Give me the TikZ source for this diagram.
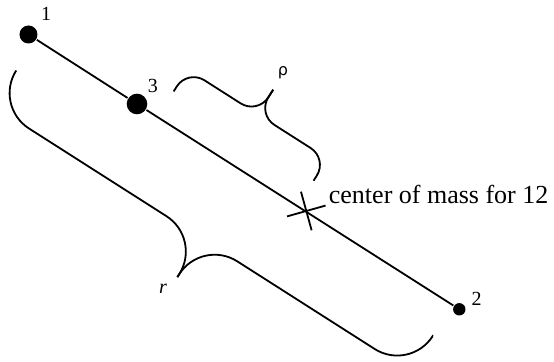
\documentclass[tikz,border=0pt]{standalone}
\usepackage{fontspec}
\setmainfont{Liberation Serif}
\newfontfamily\rhofont{DejaVu Sans}

\tikzset{
  dot/.style={circle, fill, inner sep=0pt},
  lbl/.style={inner sep=0pt, font=\fontsize{10}{12}\selectfont},
}

\begin{document}
\begin{tikzpicture}[x=0.5pt, y=0.5pt, line width=0.9pt]
  \useasboundingbox (0,0) rectangle (554,362);
  % the three masses
  \node[dot, minimum size=9pt] (p1) at (28.5,327.5) {};
  \node[dot, minimum size=10.3pt] (p3) at (137,258) {};
  \node[dot, minimum size=6.2pt] (p2) at (459.3,52.7) {};
  \node[lbl] (l1) at (46,348) {1};
  \node[lbl] (l3) at (153,276) {3};
  \node[lbl] (l2) at (476.7,63) {2};
  \draw (p1) -- (p3) -- (p2);
  % center of mass of 1 and 2
  \coordinate (cm) at (306.3,151);
  \draw (cm) +(15.7:20) -- +(195.7:20);
  \draw (cm) +(105.4:20) -- +(285.4:20);
  \node[anchor=base west, inner sep=0pt, font=\fontsize{13}{15}\selectfont] (cmtext) at (328,158.7) {center of mass for 12};
  % braces, drawn along the line (along, across)
  \begin{scope}[shift={(p1)}, rotate=-32.53]
    \coordinate (rhoa) at (153,30);
    \coordinate (rhot) at (236,85);
    \coordinate (rhob) at (319,30);
    \draw[rounded corners=10pt] (rhoa) -- (153,56) -- (236,56) -- (rhot);
    \draw[rounded corners=10pt] (rhot) -- (236,56) -- (319,56) -- (rhob);
    \coordinate (ra) at (9,-37);
    \coordinate (rt) at (256,-124.5);
    \coordinate (rb) at (503,-37);
    \draw[rounded corners=21pt] (ra) -- (9,-79) -- (256,-79) -- (rt);
    \draw[rounded corners=21pt] (rt) -- (256,-79) -- (503,-79) -- (rb);
  \end{scope}
  \node[inner sep=0pt, font=\rhofont\fontsize{8}{10}\selectfont] (rho) at (283,289) {ρ};
  \node[lbl] (r) at (163,73) {\itshape r};
\end{tikzpicture}
\end{document}
